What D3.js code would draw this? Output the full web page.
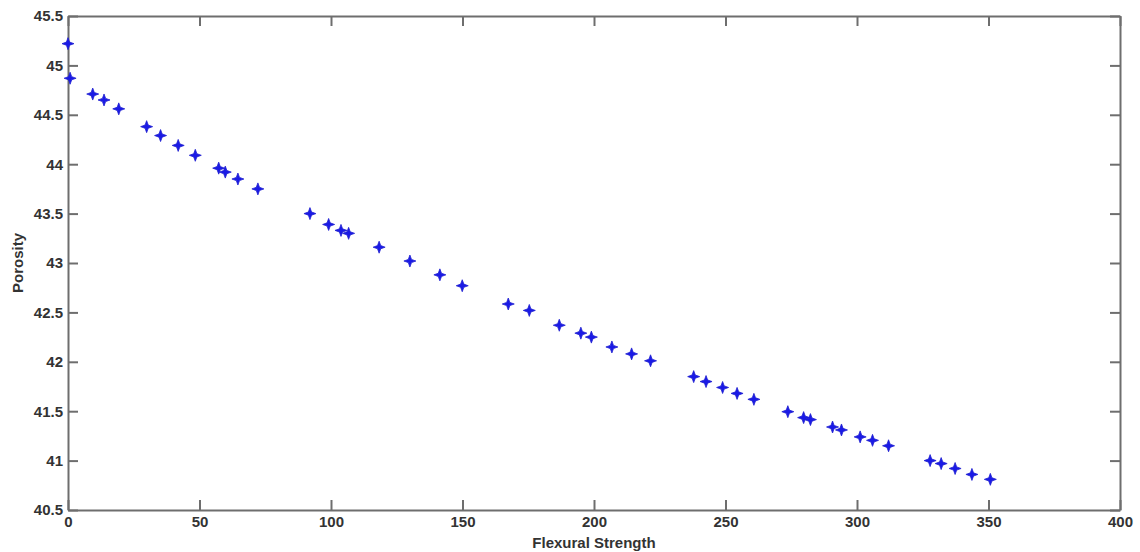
<!DOCTYPE html>
<html lang="en">
<head>
    <meta charset="UTF-8">
    <script src="https://d3js.org/d3.v7.min.js"></script>
    <style>
      body { margin: 0; background: #fff; }
      .tick text { font-family: "Liberation Sans", Arial, sans-serif; font-weight: bold; fill: #333; }
    </style>
</head>
<body>
    <div id="chart"></div>
    <script>

    // flexural strength (x) and porosity (y)
    var strength = [0, 0.8, 9.4, 13.7, 19.3, 29.9, 35.2, 41.9, 48.4, 57.3, 59.8, 64.6, 72.2,
      92.0, 99.1, 103.8, 106.7, 118.3, 130.0, 141.4, 149.9, 167.4, 175.4, 186.8,
      195.0, 199.0, 206.8, 214.3, 221.5, 237.9, 242.6, 248.9, 254.4, 260.8,
      273.7, 279.7, 282.3, 290.7, 294.1, 301.2, 305.9, 312.0,
      327.8, 332.0, 337.3, 343.7, 350.7];
    var porosity = [45.22, 44.87, 44.71, 44.65, 44.56, 44.38, 44.29, 44.19, 44.09, 43.96, 43.92, 43.85, 43.75,
      43.50, 43.39, 43.33, 43.30, 43.16, 43.02, 42.88, 42.77, 42.585, 42.52, 42.37,
      42.29, 42.25, 42.15, 42.08, 42.01, 41.85, 41.80, 41.74, 41.68, 41.62,
      41.495, 41.435, 41.415, 41.34, 41.31, 41.24, 41.205, 41.15,
      41.00, 40.97, 40.92, 40.86, 40.81];
    var xTicks = [0, 50, 100, 150, 200, 250, 300, 350, 400];
    var yTicks = [40.5, 41, 41.5, 42, 42.5, 43, 43.5, 44, 44.5, 45, 45.5];

    var data = strength.map(function(s, i) { return {x: s, y: porosity[i]}; });

    var margin = {top: 16, right: 20, bottom: 42, left: 68},
      width = 1140 - margin.left - margin.right,
      height = 552 - margin.top - margin.bottom;

    var svg = d3.select("#chart")
      .append("svg")
        .attr("width", 1140)
        .attr("height", 552)
      .append("g")
        .attr("transform", "translate(" + margin.left + "," + margin.top + ")");

    var x = d3.scaleLinear().domain([0, 400]).range([0, width]);
    var y = d3.scaleLinear().domain([40.5, 45.5]).range([height, 0]);

    // box with inward ticks on every side
    function styleAxis(g) {
      g.selectAll("path, line").attr("stroke", "#6e6e6e").attr("stroke-width", 2);
      g.selectAll("text").style("font-size", "15px");
    }
    svg.append("g")
      .attr("transform", "translate(0," + height + ")")
      .call(d3.axisBottom(x).tickValues(xTicks).tickSize(-10).tickSizeOuter(0).tickPadding(6))
      .call(styleAxis);
    svg.append("g")
      .call(d3.axisTop(x).tickValues(xTicks).tickSize(-10).tickSizeOuter(0).tickFormat(""))
      .call(styleAxis);
    svg.append("g")
      .call(d3.axisLeft(y).tickValues(yTicks).tickSize(-10).tickSizeOuter(0).tickPadding(5).tickFormat(d3.format("")))
      .call(styleAxis);
    svg.append("g")
      .attr("transform", "translate(" + width + ",0)")
      .call(d3.axisRight(y).tickValues(yTicks).tickSize(-10).tickSizeOuter(0).tickFormat(""))
      .call(styleAxis);

    // axis labels
    svg.append("text")
      .attr("x", width / 2)
      .attr("y", height + 38)
      .attr("text-anchor", "middle")
      .style("font-family", "Liberation Sans, Arial, sans-serif")
      .style("font-weight", "bold")
      .style("font-size", "15px")
      .style("fill", "#333")
      .text("Flexural Strength");
    svg.append("text")
      .attr("transform", "translate(" + (-45) + "," + (height / 2) + ") rotate(-90)")
      .attr("text-anchor", "middle")
      .style("font-family", "Liberation Sans, Arial, sans-serif")
      .style("font-weight", "bold")
      .style("font-size", "15px")
      .style("fill", "#333")
      .text("Porosity");

    // four point star marker
    var star = "M0,-6L1.6,-1.6L6,0L1.6,1.6L0,6L-1.6,1.6L-6,0L-1.6,-1.6Z";
    svg.selectAll(".pt")
      .data(data)
      .enter()
      .append("path")
        .attr("class", "pt")
        .attr("d", star)
        .attr("transform", function(d) { return "translate(" + x(d.x) + "," + y(d.y) + ")"; })
        .style("fill", "#1a1ae6")
        .style("stroke", "#2020d0")
        .style("stroke-width", 0.8);

    </script>
</body>
</html>
